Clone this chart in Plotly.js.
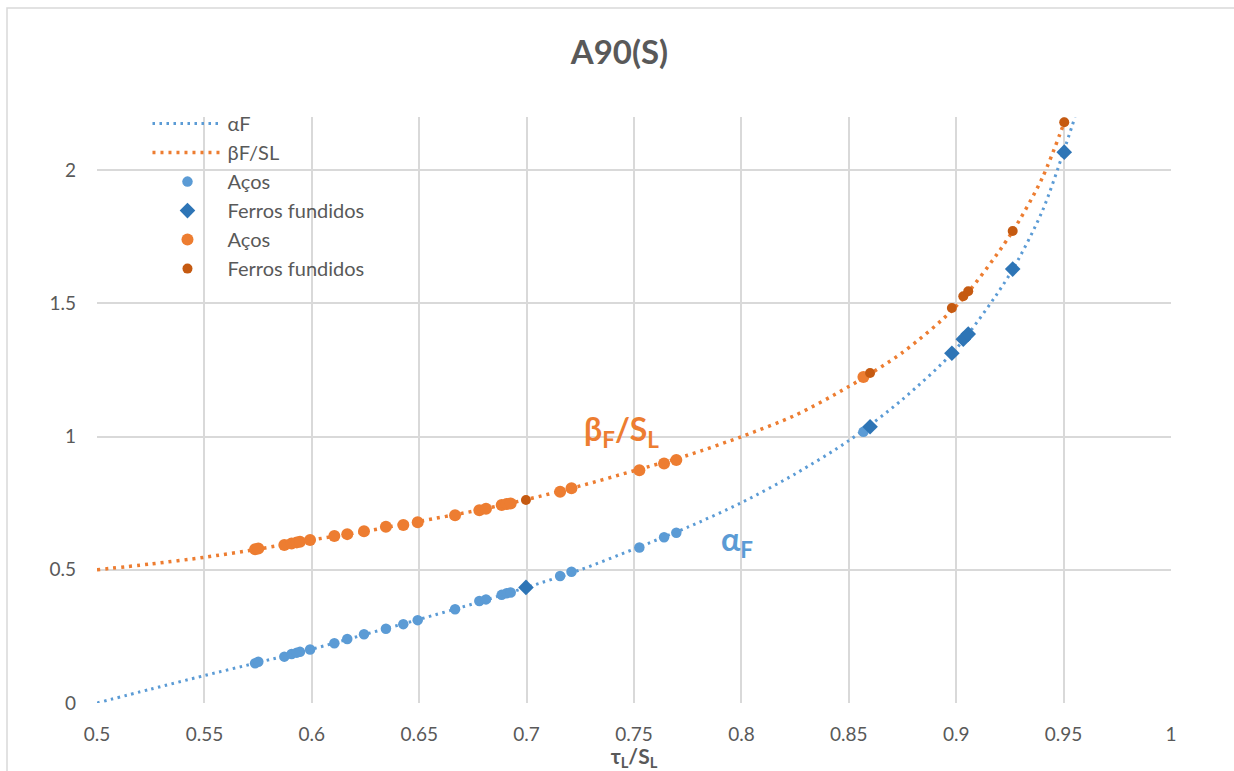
<!DOCTYPE html>
<html>
<head>
<meta charset="utf-8">
<script src="https://cdn.plot.ly/plotly-3.0.1.min.js"></script>
<style>
  html, body { margin: 0; padding: 0; background: #ffffff; }
  #chart { width: 1234px; height: 771px; }
</style>
</head>
<body>
<div id="chart"></div>
<script>
// Trend curves (τL/SL vs coefficient)
const alphaCurveX = [0.5, 0.525, 0.55, 0.575, 0.6, 0.625, 0.65, 0.675, 0.7, 0.725, 0.75, 0.775, 0.8, 0.825, 0.85, 0.875, 0.9, 0.925, 0.94, 0.95, 0.9553];
const alphaCurveY = [0, 0.052, 0.103, 0.152, 0.202, 0.258, 0.314, 0.372, 0.434, 0.50, 0.578, 0.66, 0.752, 0.86, 0.985, 1.14, 1.33, 1.61, 1.845, 2.07, 2.2];
const betaCurveX = [0.5, 0.525, 0.55, 0.575, 0.6, 0.625, 0.65, 0.675, 0.7, 0.725, 0.75, 0.775, 0.8, 0.825, 0.85, 0.875, 0.9, 0.925, 0.94, 0.9512];
const betaCurveY = [0.5, 0.522, 0.547, 0.578, 0.612, 0.645, 0.682, 0.72, 0.764, 0.815, 0.872, 0.93, 1.0, 1.08, 1.188, 1.316, 1.49, 1.755, 1.97, 2.2];

// Steels (Aços)
const steelX = [0.5736, 0.5751, 0.5872, 0.5906, 0.5930, 0.5945, 0.5992, 0.6105, 0.6165, 0.6243, 0.6345, 0.6426, 0.6493, 0.6667, 0.6780, 0.6811, 0.6884, 0.6907, 0.6926, 0.7156, 0.7209, 0.7525, 0.7640, 0.7697, 0.8568];
const steelAlpha = [0.149, 0.155, 0.174, 0.184, 0.189, 0.192, 0.201, 0.224, 0.240, 0.258, 0.279, 0.296, 0.311, 0.352, 0.383, 0.389, 0.406, 0.412, 0.415, 0.477, 0.493, 0.584, 0.622, 0.639, 1.018];
const steelBeta = [0.577, 0.580, 0.593, 0.599, 0.603, 0.605, 0.612, 0.627, 0.634, 0.645, 0.662, 0.668, 0.679, 0.705, 0.724, 0.729, 0.743, 0.747, 0.749, 0.793, 0.806, 0.874, 0.899, 0.912, 1.224];

// Cast irons (Ferros fundidos)
const ironX = [0.6997, 0.8599, 0.8980, 0.9033, 0.9056, 0.9263, 0.9503];
const ironAlpha = [0.434, 1.037, 1.313, 1.366, 1.385, 1.629, 2.068];
const ironBeta = [0.762, 1.239, 1.483, 1.527, 1.546, 1.772, 2.180];

const xTicks = [0.5, 0.55, 0.6, 0.65, 0.7, 0.75, 0.8, 0.85, 0.9, 0.95, 1];
const xTickText = ['0.5', '0.55', '0.6', '0.65', '0.7', '0.75', '0.8', '0.85', '0.9', '0.95', '1'];
const yTicks = [0, 0.5, 1, 1.5, 2];
const yTickText = ['0', '0.5', '1', '1.5', '2'];

const FONT = 'Lato, "Open Sans", sans-serif';
const GREY = '#595959';
const GRID = '#d9d9d9';
const BLUE = '#5b9bd5';
const DARK_BLUE = '#2e75b6';
const ORANGE = '#ed7d31';
const DARK_ORANGE = '#c55a11';

const traces = [
  {
    x: alphaCurveX, y: alphaCurveY, name: 'αF', mode: 'lines',
    line: { color: BLUE, width: 3, dash: '2.5px,4.5px', shape: 'spline', smoothing: 0.8 },
    hoverinfo: 'skip'
  },
  {
    x: betaCurveX, y: betaCurveY, name: 'βF/SL', mode: 'lines',
    line: { color: ORANGE, width: 3.5, dash: '3px,5px', shape: 'spline', smoothing: 0.8 },
    hoverinfo: 'skip'
  },
  {
    x: steelX, y: steelAlpha, name: 'Aços', mode: 'markers',
    marker: { color: BLUE, size: 10.5, symbol: 'circle' }
  },
  {
    x: ironX, y: ironAlpha, name: 'Ferros fundidos', mode: 'markers',
    marker: { color: DARK_BLUE, size: 12, symbol: 'diamond' }
  },
  {
    x: steelX, y: steelBeta, name: 'Aços', mode: 'markers',
    marker: { color: ORANGE, size: 12, symbol: 'circle' }
  },
  {
    x: ironX, y: ironBeta, name: 'Ferros fundidos', mode: 'markers',
    marker: { color: DARK_ORANGE, size: 10, symbol: 'circle' }
  }
];

const layout = {
  width: 1234,
  height: 771,
  margin: { l: 97, r: 63, t: 117, b: 68, pad: 0 },
  paper_bgcolor: '#ffffff',
  plot_bgcolor: '#ffffff',
  font: { family: FONT, color: GREY, size: 19 },
  title: {
    text: '<b>A90(S)</b>',
    font: { family: FONT, size: 33, color: GREY },
    x: 0.502, xanchor: 'center',
    y: 0.932, yanchor: 'middle'
  },
  xaxis: {
    range: [0.5, 1],
    tickvals: xTicks, ticktext: xTickText,
    showgrid: true, gridcolor: GRID, gridwidth: 2,
    zeroline: false, showline: false,
    ticks: '', ticklabelstandoff: 18,
    tickfont: { family: FONT, size: 19, color: GREY },
    title: { text: '<b>τ<sub>L</sub>/S<sub>L</sub></b>', font: { family: FONT, size: 21, color: GREY }, standoff: 1 },
    fixedrange: true
  },
  yaxis: {
    range: [0, 2.2],
    tickvals: yTicks, ticktext: yTickText,
    showgrid: true, gridcolor: GRID, gridwidth: 2,
    zeroline: false, showline: false,
    ticks: '', ticklabelstandoff: 20,
    tickfont: { family: FONT, size: 19, color: GREY },
    fixedrange: true
  },
  legend: {
    x: 0.047, xanchor: 'left',
    y: 1.022, yanchor: 'top',
    bgcolor: 'rgba(0,0,0,0)',
    itemwidth: 70,
    font: { family: FONT, size: 20, color: GREY },
    tracegroupgap: 0
  },
  shapes: [
    // white panel behind the legend, hiding the grid there
    { type: 'rect', xref: 'paper', yref: 'paper', x0: 0.003, x1: 0.296, y0: 0.713, y1: 1.0,
      fillcolor: '#ffffff', line: { width: 0 }, layer: 'between' },
    // outer chart frame
    { type: 'rect', xref: 'paper', yref: 'paper', x0: -0.0838, x1: 1.07, y0: -0.14, y1: 1.186,
      fillcolor: 'rgba(0,0,0,0)', line: { color: GRID, width: 1.5 }, layer: 'above' }
  ],
  annotations: [
    { x: 0.7625, y: 0.93, xref: 'x', yref: 'y', xanchor: 'right', yanchor: 'bottom',
      text: '<b>β<sub>F</sub>/S<sub>L</sub></b>', showarrow: false,
      font: { family: FONT, size: 32, color: ORANGE } },
    { x: 0.798, y: 0.61, xref: 'x', yref: 'y', xanchor: 'center', yanchor: 'middle',
      text: '<b>α<sub>F</sub></b>', showarrow: false,
      font: { family: FONT, size: 32, color: BLUE } }
  ],
  showlegend: true
};

Plotly.newPlot('chart', traces, layout, { displayModeBar: false, staticPlot: true });
</script>
</body>
</html>
